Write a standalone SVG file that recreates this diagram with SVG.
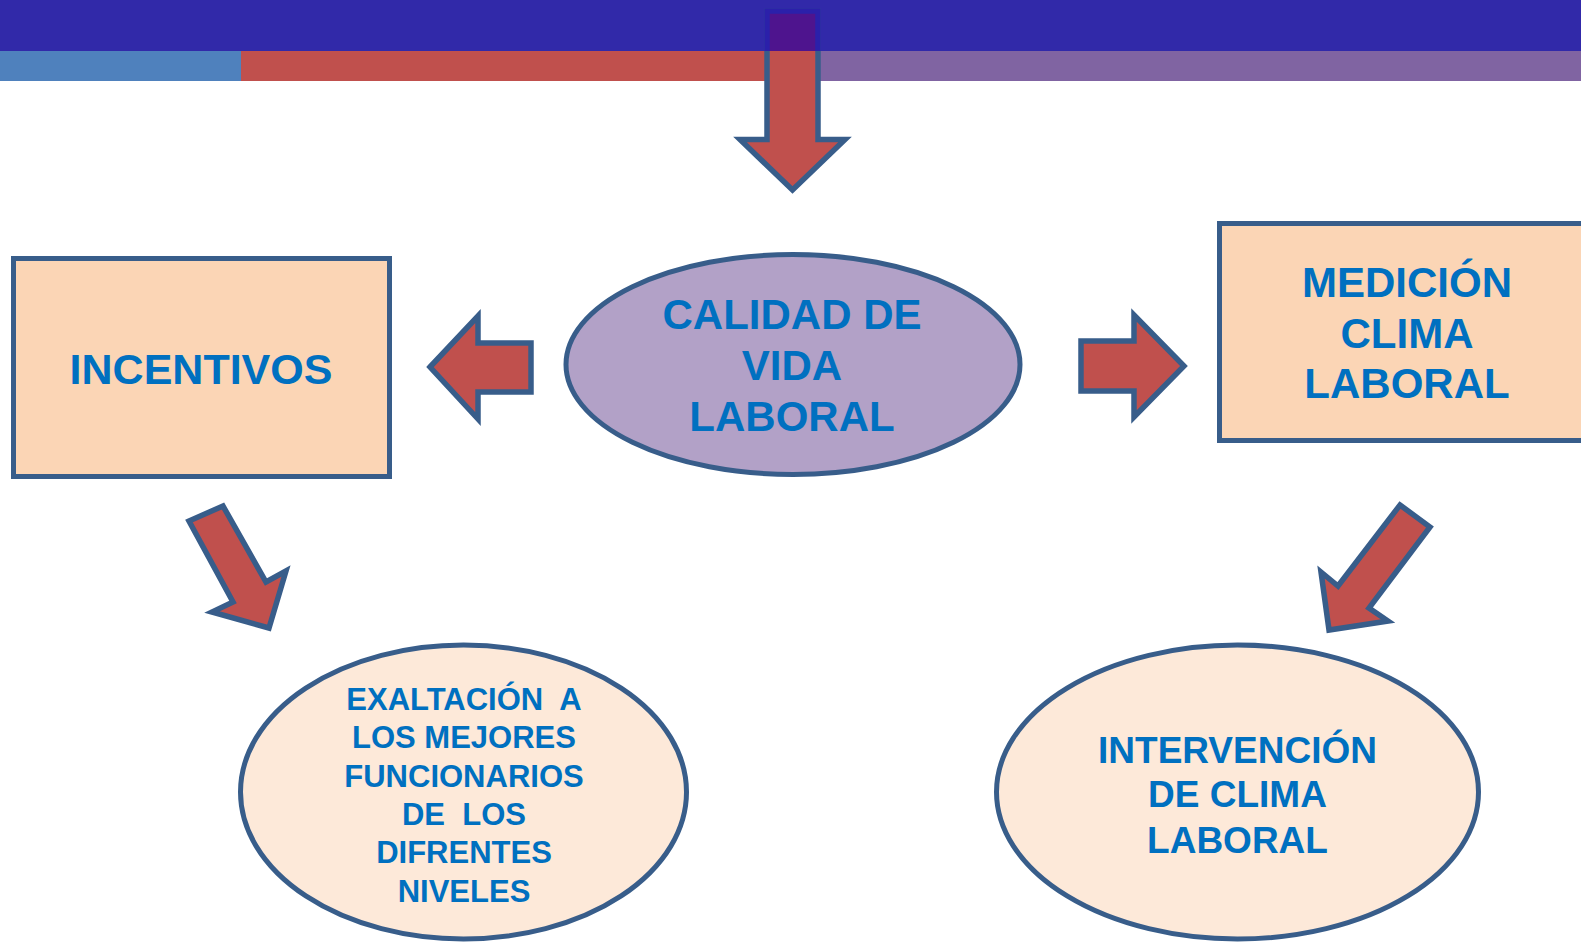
<svg xmlns="http://www.w3.org/2000/svg" xmlns:xlink="http://www.w3.org/1999/xlink" width="1581" height="942" viewBox="0 0 1581 942">
<style>
.arrow{fill:#C0504D;stroke:#385D8A;stroke-width:5.5;stroke-linejoin:miter}
.arrowDim{fill:#4E148E;stroke:#2B20AA;stroke-width:5.5}
.box{fill:#FBD5B5;stroke:#385D8A;stroke-width:5}
.oval{stroke:#385D8A;stroke-width:5}
.t{font-family:"Liberation Sans",Arial,sans-serif;font-weight:bold;fill:#0070C0;text-anchor:middle;white-space:pre}
</style>
<defs>
<path id="downArrow" d="M767,11 L818,11 L818,139.5 L845,139.5 L792.5,190 L740,139.5 L767,139.5 Z"/>
<clipPath id="barClip"><rect x="0" y="0" width="1581" height="51"/></clipPath>
</defs>
<rect width="1581" height="942" fill="#FFFFFF"/>
<g id="header">
<rect x="0" y="51" width="241" height="30" fill="#4F81BD"/>
<rect x="241" y="51" width="525" height="30" fill="#C0504D"/>
<rect x="766" y="51" width="815" height="30" fill="#8064A2"/>
<rect x="0" y="0" width="1581" height="51" fill="#3129A9"/>
</g>
<g id="connectors">
<use xlink:href="#downArrow" class="arrow"/>
<use xlink:href="#downArrow" class="arrowDim" clip-path="url(#barClip)"/>
<path class="arrow" d="M430,367 L478,316 L478,343 L531,343 L531,392 L478,392 L478,419 Z"/>
<path class="arrow" d="M1081,341 L1134,341 L1134,315 L1184,366 L1134,417 L1134,391 L1081,391 Z"/>
<path class="arrow" d="M189,521 L223,506 L266,582 L286,571 L269,628 L212,612 L233,602 Z"/>
<path class="arrow" d="M1400,505 L1430,527 L1369,608 L1388,621 L1329,630 L1321,572 L1338,586 Z"/>
</g>
<g id="node-calidad">
<ellipse class="oval" cx="793" cy="364.5" rx="227" ry="110" fill="#B2A1C7"/>
<text class="t" font-size="42" x="792" y="329">CALIDAD DE</text>
<text class="t" font-size="42" x="792" y="380">VIDA</text>
<text class="t" font-size="42" x="792" y="431">LABORAL</text>
</g>
<g id="node-incentivos">
<rect class="box" x="13.5" y="258.5" width="376" height="218"/>
<text class="t" font-size="43" x="201" y="384">INCENTIVOS</text>
</g>
<g id="node-medicion">
<rect class="box" x="1219.5" y="223.5" width="400" height="217"/>
<text class="t" font-size="42" x="1407" y="297">MEDICIÓN</text>
<text class="t" font-size="42" x="1407" y="348">CLIMA</text>
<text class="t" font-size="42" x="1407" y="398">LABORAL</text>
</g>
<g id="node-exaltacion">
<ellipse class="oval" cx="463.5" cy="792" rx="223" ry="147" fill="#FDE9D9"/>
<text class="t" font-size="31" x="464" y="710">EXALTACIÓN  A</text>
<text class="t" font-size="31" x="464" y="748">LOS MEJORES</text>
<text class="t" font-size="31" x="464" y="787">FUNCIONARIOS</text>
<text class="t" font-size="31" x="464" y="825">DE  LOS</text>
<text class="t" font-size="31" x="464" y="863">DIFRENTES</text>
<text class="t" font-size="31" x="464" y="902">NIVELES</text>
</g>
<g id="node-intervencion">
<ellipse class="oval" cx="1237.5" cy="792" rx="241" ry="147" fill="#FDE9D9"/>
<text class="t" font-size="37" x="1237.5" y="763">INTERVENCIÓN</text>
<text class="t" font-size="37" x="1237.5" y="807">DE CLIMA</text>
<text class="t" font-size="37" x="1237.5" y="853">LABORAL</text>
</g>
</svg>
